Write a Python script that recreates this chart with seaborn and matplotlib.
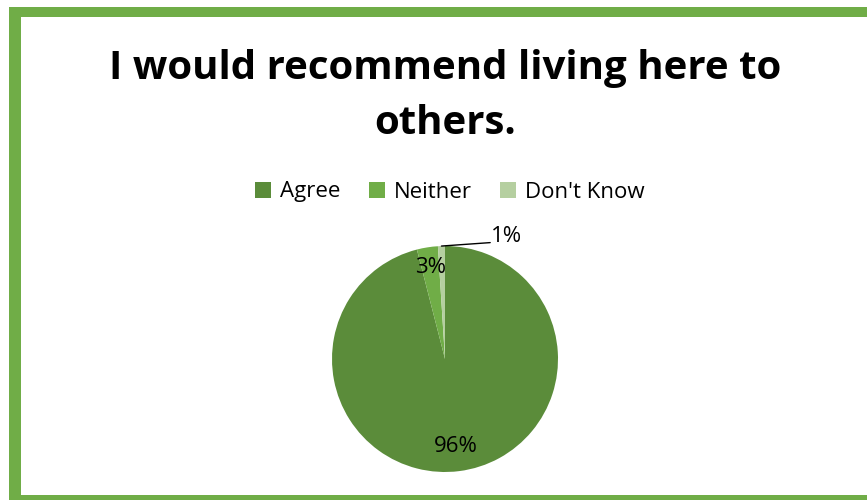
import numpy as np
import matplotlib
matplotlib.use("Agg")
import matplotlib.pyplot as plt
from matplotlib.patches import Rectangle
import seaborn as sns

# Survey responses
categories = ["Agree", "Neither", "Don't Know"]
shares = [96, 3, 1]
share_labels = ["96%", "3%", "1%"]
title = "I would recommend living here to\nothers."

sns.set_theme(style="white")
plt.rcParams["font.family"] = ["Open Sans", "DejaVu Sans"]

palette = ["#5B8C3A", "#70AD47", "#B5CFA0"]

W, H = 867, 500
fig = plt.figure(figsize=(W / 100, H / 100), dpi=100)
fig.patch.set_facecolor("white")

# Green frame (top, left, bottom bands)
frame = "#70AD47"
def band(x0, y0, x1, y1):
    fig.add_artist(Rectangle((x0 / W, 1 - y1 / H), (x1 - x0) / W, (y1 - y0) / H,
                             transform=fig.transFigure, color=frame, lw=0, zorder=0))
band(9, 7, W, 17)
band(9, 7, 21, H)
band(9, 495, W, H)

# Pie axes centred at (445, 359) px with radius 113 px
cx, cy, r = 445, 359, 113
ax = fig.add_axes([(cx - r) / W, (H - cy - r) / H, 2 * r / W, 2 * r / H])
wedges, _ = ax.pie(shares, colors=palette, startangle=90, counterclock=False,
                   radius=1.0, wedgeprops=dict(linewidth=0))
ax.set_xlim(-1, 1)
ax.set_ylim(-1, 1)
ax.set_aspect("equal")
ax.axis("off")

# Value labels placed along each wedge's mid angle
total = float(sum(shares))
start = 90.0
mids = []
for v in shares:
    sweep = 360.0 * v / total
    mids.append(np.deg2rad(start - sweep / 2))
    start -= sweep

lab_fs = 16
for i, rad in zip([0, 1], [0.78, 0.82]):
    a = mids[i]
    ax.text(rad * np.cos(a), rad * np.sin(a), share_labels[i], ha="center", va="center",
            fontsize=lab_fs, color="black")

a = mids[2]
p0 = (np.cos(a), np.sin(a))
p1 = (0.40, 1.03)
ax.plot([p0[0], p1[0]], [p0[1], p1[1]], color="black", lw=1.0, clip_on=False)
ax.text(0.41, 1.085, share_labels[2], ha="left", va="center", fontsize=lab_fs,
        color="black", clip_on=False)

# Title
fig.text(445 / W, 1 - 96 / H, title, ha="center", va="center", fontsize=29,
         fontweight="bold", color="black", linespacing=1.55)

# Legend
fig.legend(wedges, categories, loc="center", bbox_to_anchor=(450 / W, 1 - 192 / H),
           ncol=3, frameon=False, fontsize=16, handlelength=0.7, handleheight=0.7,
           handletextpad=0.4, columnspacing=1.3, labelcolor="black")

fig.savefig("out.png", dpi=100, facecolor="white")
